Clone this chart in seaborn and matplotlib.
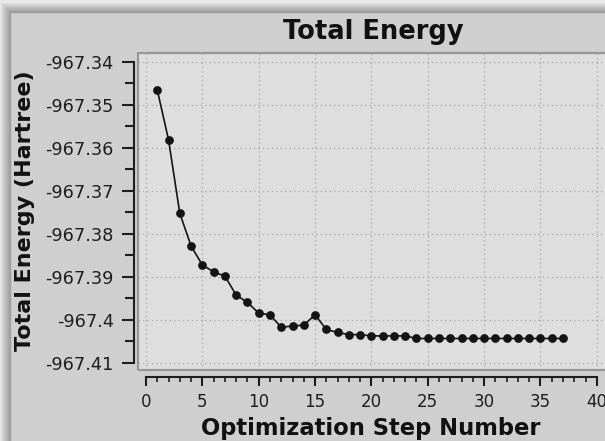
import matplotlib
matplotlib.use("Agg")
import matplotlib.pyplot as plt
import seaborn as sns
from matplotlib.patches import Rectangle
from matplotlib.ticker import FixedLocator, FixedFormatter, MultipleLocator

# ---- data ----
steps = list(range(1, 38))
energy = [
    -967.3465, -967.3581, -967.3752, -967.3828, -967.3872, -967.3888,
    -967.3898, -967.3942, -967.3959, -967.3984, -967.3988, -967.4017,
    -967.4014, -967.4012, -967.3988, -967.4022, -967.4029, -967.4034,
    -967.4034, -967.4037, -967.4037, -967.4037, -967.4037, -967.4043,
    -967.4043, -967.4043, -967.4043, -967.4043, -967.4043, -967.4043,
    -967.4043, -967.4043, -967.4043, -967.4043, -967.4043, -967.4043,
    -967.4043,
]
x_ticks = [0, 5, 10, 15, 20, 25, 30, 35, 40]
x_tick_labels = ["0", "5", "10", "15", "20", "25", "30", "35", "40"]
x_minor_ticks = list(range(0, 41))
y_ticks = [-967.34, -967.35, -967.36, -967.37, -967.38, -967.39, -967.40, -967.41]
y_tick_labels = ["-967.34", "-967.35", "-967.36", "-967.37", "-967.38",
                 "-967.39", "-967.4", "-967.41"]
title = "Total Energy"
x_label = "Optimization Step Number"
y_label = "Total Energy (Hartree)"

sns.set_theme(style="ticks")
plt.rcParams["font.family"] = ["DejaVu Sans"]

W, H = 605, 441
fig = plt.figure(figsize=(W / 100, H / 100), dpi=100, facecolor="#e8e8e8")


def frect(x0, y0, x1, y1, **kw):
    """Rectangle given in pixel coords (top-left origin)."""
    r = Rectangle((x0 / W, 1 - y1 / H), (x1 - x0) / W, (y1 - y0) / H,
                  transform=fig.transFigure, **kw)
    fig.add_artist(r)
    return r


# window shadow + panel
for k in range(1, 10):
    frect(10 - k, 12 - k, 800, 800, facecolor="black", edgecolor="none",
          alpha=0.035, zorder=-10)
frect(10, 12, 800, 800, facecolor="#cfcfcf", edgecolor="#9e9e9e",
      linewidth=1.0, zorder=-9)

# plot area (pixels): left 138, top 53, bottom 370, right beyond figure
L, T, B, R = 138, 53, 370, 612
ax = fig.add_axes([L / W, 1 - B / H, (R - L) / W, (B - T) / H])
ax.set_facecolor("#dedede")

sns.lineplot(x=steps, y=energy, ax=ax, color="#141414", linewidth=1.2,
             marker="o", markersize=6.3, markeredgewidth=0,
             markerfacecolor="#141414", zorder=3)

# scales: x=0 at px 146, 11.27 px/unit ; y: 4300 px/unit, -967.34 at px 62
xpx = 11.27
ax.set_xlim((L - 146) / xpx, (R - 146) / xpx)
ypx = 4300.0
ax.set_ylim(-967.41 - (B - 363) / ypx, -967.34 + (62 - T) / ypx)

ax.xaxis.set_major_locator(FixedLocator(x_ticks))
ax.xaxis.set_major_formatter(FixedFormatter(x_tick_labels))
ax.xaxis.set_minor_locator(FixedLocator(x_minor_ticks))
ax.yaxis.set_major_locator(FixedLocator(y_ticks))
ax.yaxis.set_major_formatter(FixedFormatter(y_tick_labels))
ax.yaxis.set_minor_locator(MultipleLocator(0.005))

for s in ["top", "right"]:
    ax.spines[s].set_visible(False)
ax.spines["left"].set_position(("outward", 4 * 0.72))
ax.spines["bottom"].set_position(("outward", 7 * 0.72))
ax.spines["left"].set_bounds(-967.41, -967.34)
ax.spines["bottom"].set_bounds(0, 40)
for s in ["left", "bottom"]:
    ax.spines[s].set_color("#1e1e1e")
    ax.spines[s].set_linewidth(1.5)

ax.tick_params(axis="y", which="major", direction="out", length=8.6, width=1.5,
               pad=6.0, labelsize=12.8, colors="#1e1e1e")
ax.tick_params(axis="y", which="minor", direction="out", length=6.4, width=1.5,
               colors="#1e1e1e")
ax.tick_params(axis="x", which="major", direction="out", length=6.5, width=1.5,
               pad=5.0, labelsize=12.0, colors="#1e1e1e")
ax.tick_params(axis="x", which="minor", direction="out", length=3.6, width=1.2,
               colors="#1e1e1e")

ax.grid(True, which="major", color="#acacac", linestyle=(0, (1, 2.2)),
        linewidth=1.0)

# frame of plot area
fig.add_artist(Rectangle((0, 0), 1, 1, transform=ax.transAxes, fill=False,
                         edgecolor="#979797", linewidth=1.6, zorder=2))

fig.suptitle(title, x=373 / W, y=1 - 39 / H, ha="center", va="baseline",
             fontsize=18.5, fontweight="bold", color="#111111")

ax.set_xlabel(x_label, fontsize=16.3, fontweight="bold", color="#111111")
ax.xaxis.label.set_va("baseline")
ax.xaxis.set_label_coords(371 / W, 1 - 435 / H, transform=fig.transFigure)

ax.set_ylabel(y_label, fontsize=16.0, fontweight="bold", color="#111111")
ax.yaxis.label.set_va("center")
ax.yaxis.set_label_coords(25 / W, 1 - 211 / H, transform=fig.transFigure)

fig.savefig("out.png", dpi=100, facecolor=fig.get_facecolor())
